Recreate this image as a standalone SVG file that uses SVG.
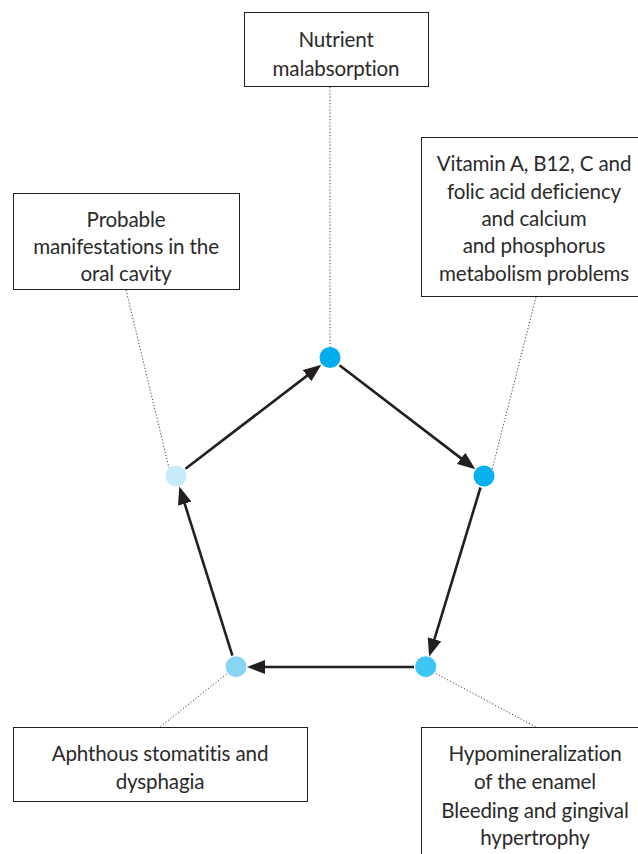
<svg xmlns="http://www.w3.org/2000/svg" width="638" height="854" viewBox="0 0 638 854">
<style>
.box{fill:#fff;stroke:#231F20;stroke-width:1}
.t{font-family:Lato,"Liberation Sans",sans-serif;font-size:20.6px;fill:#2B2A2A;text-anchor:middle;letter-spacing:-0.15px}
.dot{stroke:#444;stroke-width:1;stroke-dasharray:1.2 2;fill:none}
.edge{stroke:#231F20;stroke-width:2.6;fill:none;marker-end:url(#ah)}
</style>
<defs>
<marker id="ah" viewBox="0 0 18 14" markerWidth="18" markerHeight="14" refX="10" refY="7" orient="auto" markerUnits="userSpaceOnUse">
<path d="M0,0 L18,7 L0,14 z" fill="#231F20"/>
</marker>
</defs>
<rect width="638" height="854" fill="#fff"/>
<g id="connectors">
<line class="dot" x1="330" y1="87" x2="330" y2="347"/>
<line class="dot" x1="536" y1="297" x2="492" y2="470"/>
<line class="dot" x1="126" y1="290" x2="169" y2="468"/>
<line class="dot" x1="229" y1="672" x2="160" y2="727"/>
<line class="dot" x1="433" y1="672" x2="536" y2="727"/>
<line class="edge" x1="185.5" y1="468.7" x2="315" y2="369.6"/>
<line class="edge" x1="339.5" y1="365.3" x2="469" y2="464.4"/>
<line class="edge" x1="480.5" y1="487.5" x2="431.5" y2="648.8"/>
<line class="edge" x1="414" y1="667" x2="255" y2="667"/>
<line class="edge" x1="232.4" y1="655.6" x2="181.7" y2="494.1"/>
</g>
<g id="n-top">
<rect class="box" x="244.5" y="12.5" width="184" height="74"/>
<text class="t" x="336" y="47">Nutrient</text>
<text class="t" x="336" y="76">malabsorption</text>
</g>
<g id="n-right">
<rect class="box" x="421.5" y="137.5" width="230" height="159"/>
<text class="t" x="534" y="171">Vitamin A, B12, C and</text>
<text class="t" x="534" y="199">folic acid deficiency</text>
<text class="t" x="534" y="226">and calcium</text>
<text class="t" x="534" y="253">and phosphorus</text>
<text class="t" x="534" y="281">metabolism problems</text>
</g>
<g id="n-left">
<rect class="box" x="13.5" y="193.5" width="226" height="96"/>
<text class="t" x="126" y="227">Probable</text>
<text class="t" x="126" y="254">manifestations in the</text>
<text class="t" x="126" y="281">oral cavity</text>
</g>
<g id="n-bottomleft">
<rect class="box" x="13.5" y="727.5" width="294" height="74"/>
<text class="t" x="160" y="761">Aphthous stomatitis and</text>
<text class="t" x="160" y="789">dysphagia</text>
</g>
<g id="n-bottomright">
<rect class="box" x="421.5" y="727.5" width="230" height="140"/>
<text class="t" x="535" y="761">Hypomineralization</text>
<text class="t" x="535" y="789">of the enamel</text>
<text class="t" x="535" y="818">Bleeding and gingival</text>
<text class="t" x="535" y="845">hypertrophy</text>
</g>
<g id="dots">
<circle id="c-top" cx="330" cy="357.5" r="10.5" fill="#00AEEF"/>
<circle id="c-right" cx="484" cy="476" r="10.5" fill="#08B0EE"/>
<circle id="c-bottomright" cx="425.7" cy="666.7" r="10.5" fill="#3EC6F4"/>
<circle id="c-bottomleft" cx="236" cy="666.7" r="10.5" fill="#88D4F5"/>
<circle id="c-left" cx="176" cy="476" r="10.5" fill="#C8EBFA"/>
</g>
</svg>
